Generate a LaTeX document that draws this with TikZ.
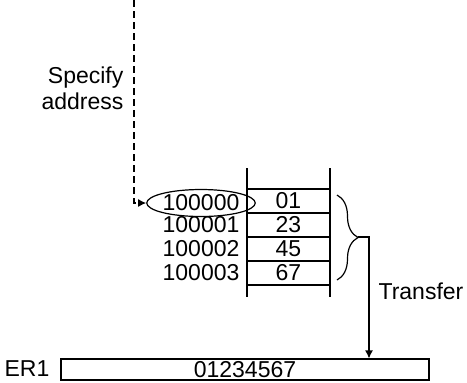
\documentclass[tikz,border=0pt]{standalone}
\usepackage{fontspec}
\setmainfont{Liberation Sans}
\usetikzlibrary{arrows.meta,shapes.geometric,decorations.pathreplacing}

\begin{document}
\begin{tikzpicture}[x=0.5pt,y=-0.5pt,>={Latex[length=4pt,width=4pt]},
  font=\fontsize{11.5}{13}\selectfont,
  line width=0.6pt,
  cell/.style={draw,minimum width=41.5pt,minimum height=12pt,inner sep=0pt},
  addr/.style={anchor=east,inner sep=0pt}]

%% ── canvas ──────────────────────────────────────────────────────────────────
\useasboundingbox (0,0) rectangle (467,382);

%% ── memory column ───────────────────────────────────────────────────────────
\draw (247,168) -- (247,297);
\draw (330,168) -- (330,297);
\node[cell] (m0) at (288.5,201) {01};
\node[cell] (m1) at (288.5,225) {23};
\node[cell] (m2) at (288.5,249) {45};
\node[cell] (m3) at (288.5,273) {67};

%% ── addresses ───────────────────────────────────────────────────────────────
\node[draw,ellipse,minimum width=47pt,minimum height=13.5pt,inner sep=0pt]
  (a0) at (201,203) {100000};
\node[addr] (a1) at (240,225) {100001};
\node[addr] (a2) at (240,249) {100002};
\node[addr] (a3) at (240,273) {100003};

%% ── specify address (dashed) ────────────────────────────────────────────────
\coordinate (top) at (134,0);
\draw[dash pattern=on 3.5pt off 2pt,->] (top) |- (a0.west);
\node[align=right,anchor=east,inner sep=0pt] (spec) at (124,88)
  {Specify\\address};

%% ── transfer ────────────────────────────────────────────────────────────────
\draw[decorate,decoration={brace,amplitude=10.5pt}] (337,195) -- (337,280);
\coordinate (bt) at (358,237);
\node[cell,minimum width=184pt,minimum height=10.5pt] (er) at (245,369.5) {01234567};
\draw[->] (bt) -- ++(11,0) coordinate (bc) -- (bc |- er.north);
\node[anchor=west,inner sep=0pt] (tr) at (378,291) {Transfer};
\node[addr] (erl) at (50,369) {ER1};

\end{tikzpicture}
\end{document}
